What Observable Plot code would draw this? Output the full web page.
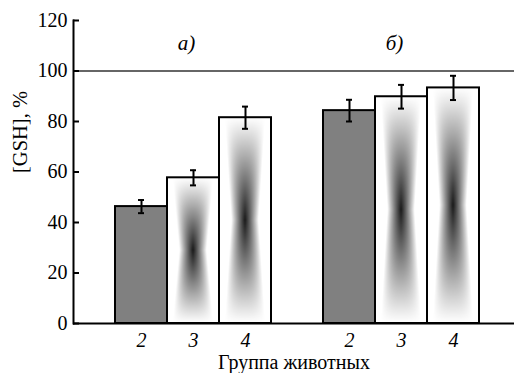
<!DOCTYPE html>
<html><head><meta charset="utf-8">
<script src="https://cdn.jsdelivr.net/npm/d3@7"></script>
<script src="https://cdn.jsdelivr.net/npm/@observablehq/plot@0.6"></script>
<style>
body{margin:0;background:#fff}
#chart svg, #chart svg text{font-family:"Liberation Serif","Times New Roman",serif !important;}
</style></head><body><div id="chart"></div>
<script>
// ---- data ----
const panels = ["а)", "б)"];
const animalGroups = ["2", "3", "4"];
const gshA = [46.3, 57.7, 81.5];
const gshB = [84.3, 89.8, 93.3];
const errA = [2.6, 3.0, 4.4];
const errB = [4.3, 4.7, 4.8];
const yTicks = [0, 20, 40, 60, 80, 100, 120];
const referenceLevel = [100];
const xTitle = "Группа животных";
const yTitle = "[GSH], %";

// ---- build rows ----
const series = [gshA, gshB], errs = [errA, errB];
const rows = [];
const domain = [];
panels.forEach((p, pi) => {
  if (pi > 0) domain.push("gap" + pi);
  animalGroups.forEach((g, gi) => {
    const key = p + "-" + g;
    domain.push(key);
    rows.push({key, panel: p, group: g, value: series[pi][gi], err: errs[pi][gi], control: gi === 0});
  });
});
const tickKeys = rows.map(d => d.key);
const panelRows = panels.map(p => ({key: p + "-" + animalGroups[1], label: p}));

// ---- hourglass texture ----
function hourglassTexture() {
  const w = 100, h = 300;
  const c = document.createElement("canvas");
  c.width = w; c.height = h;
  const ctx = c.getContext("2d");
  const img = ctx.createImageData(w, h);
  for (let j = 0; j < h; j++) {
    const v = Math.abs((j + 0.5) / h - 0.5) * 2;
    const C = 0.9 * Math.pow(1 - v, 1.05);
    const W = 0.52 + 0.26 * v;
    const p = 1.1 + 1.8 * v;
    for (let i = 0; i < w; i++) {
      const u = Math.abs((i + 0.5) / w - 0.5) * 2;
      const t = u / W;
      const H = t >= 1 ? 0 : 1 - Math.pow(t, p);
      const g = Math.round(255 * (1 - C * H));
      const k = (j * w + i) * 4;
      img.data[k] = img.data[k + 1] = img.data[k + 2] = g;
      img.data[k + 3] = 255;
    }
  }
  ctx.putImageData(img, 0, 0);
  return c.toDataURL();
}

const serif = "Liberation Serif";
const chart = Plot.plot({
  width: 514,
  height: 373,
  marginLeft: 73,
  marginRight: 0,
  marginTop: 20,
  marginBottom: 50,
  style: {fontFamily: serif, fontSize: "20px", background: "white", color: "black"},
  x: {type: "band", domain, range: [112, 481.6], padding: 0},
  y: {domain: [0, 120]},
  marks: [
    Plot.ruleY(referenceLevel, {stroke: "#333", strokeWidth: 1.6}),
    Plot.barY(rows.filter(d => d.control), {x: "key", y: "value", fill: "#808080", stroke: "black", strokeWidth: 2}),
    Plot.barY(rows.filter(d => !d.control), {x: "key", y: "value", fill: "url(#hourglass)", stroke: "black", strokeWidth: 2}),
    Plot.ruleX(rows, {x: "key", y1: d => d.value - d.err, y2: d => d.value + d.err, stroke: "black", strokeWidth: 2}),
    Plot.tickY(rows, {x: "key", y: d => d.value + d.err, insetLeft: 23, insetRight: 23, stroke: "black", strokeWidth: 2}),
    Plot.tickY(rows, {x: "key", y: d => d.value - d.err, insetLeft: 23, insetRight: 23, stroke: "black", strokeWidth: 2}),
    Plot.ruleY([0], {stroke: "black", strokeWidth: 2}),
    Plot.frame({anchor: "left", stroke: "black", strokeWidth: 2}),
    Plot.axisY({ticks: yTicks, tickSize: -6, tickPadding: 12, fontSize: 20, fontFamily: serif, strokeWidth: 2, label: null}),
    Plot.axisX({ticks: tickKeys, tickSize: 0, tickPadding: 9, tickFormat: k => k.split("-")[1], fontSize: 20, fontFamily: serif, fontStyle: "italic", label: null}),
    Plot.text(panelRows, {x: "key", text: "label", frameAnchor: "top", lineAnchor: "middle", dy: 23, dx: -7, fontSize: 21, fontFamily: serif, fontStyle: "italic"}),
    Plot.text([xTitle], {frameAnchor: "bottom", lineAnchor: "middle", dy: 39, fontSize: 20, fontFamily: serif}),
    Plot.text([yTitle], {frameAnchor: "left", lineAnchor: "middle", dx: -53, dy: 1, rotate: -90, fontSize: 20.5, fontFamily: serif})
  ]
});

const svg = d3.select(chart);
const pat = svg.insert("defs", ":first-child").append("pattern")
  .attr("id", "hourglass")
  .attr("patternUnits", "objectBoundingBox")
  .attr("patternContentUnits", "objectBoundingBox")
  .attr("width", 1).attr("height", 1);
pat.append("image")
  .attr("href", hourglassTexture())
  .attr("x", 0).attr("y", 0)
  .attr("width", 1).attr("height", 1)
  .attr("preserveAspectRatio", "none");

document.getElementById("chart").appendChild(chart);
</script>
</body></html>
